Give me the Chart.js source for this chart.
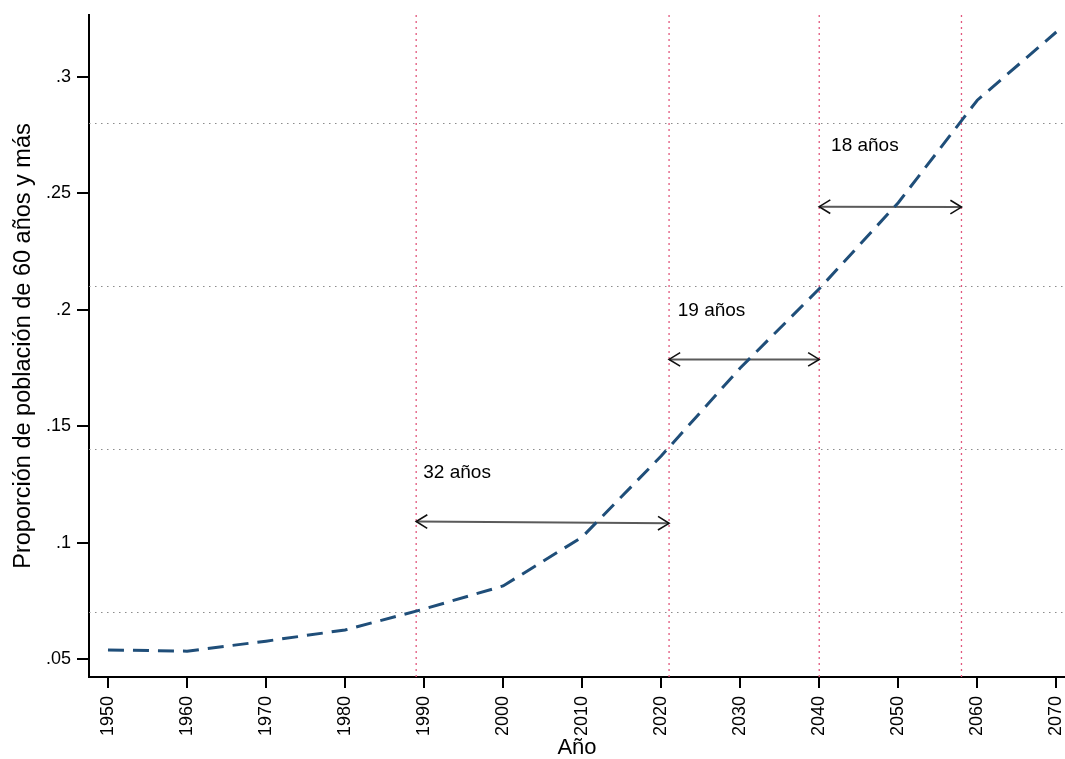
<!DOCTYPE html>
<html>
<head>
<meta charset="utf-8">
<script src="https://cdn.jsdelivr.net/npm/chart.js@4/dist/chart.umd.min.js"></script>
<style>
  html, body { margin:0; padding:0; background:#fff; }
  canvas { display:block; }
</style>
</head>
<body>
<canvas id="chart" width="1065" height="759"></canvas>
<script>
// data
const years  = [1950, 1960, 1970, 1980, 1990, 2000, 2010, 2020, 2030, 2040, 2050, 2060, 2070];
const shares = [0.0539, 0.0534, 0.0577, 0.0625, 0.0715, 0.0814, 0.1024, 0.1372, 0.175, 0.209, 0.246, 0.290, 0.3193];

const xTicks = [1950, 1960, 1970, 1980, 1990, 2000, 2010, 2020, 2030, 2040, 2050, 2060, 2070];
const yTicks = [0.05, 0.1, 0.15, 0.2, 0.25, 0.3];

const refYears  = [1989, 2021, 2040, 2058];
const refShares = [0.07, 0.14, 0.21, 0.28];

const arrowFrom  = [1989, 2021, 2040];
const arrowTo    = [2021, 2040, 2058];
const arrowYFrom = [0.1091, 0.1787, 0.2443];
const arrowYTo   = [0.1083, 0.1787, 0.2441];

const noteText = ["32 años", "19 años", "18 años"];
const noteX    = [1989.9, 2022.1, 2041.5];
const noteY    = [0.1299, 0.1995, 0.2704];

const xMin = 1947.6, xMax = 2071.1;
const yMin = 0.0423, yMax = 0.3266;

Chart.defaults.font.family = "'Liberation Sans', Arial, sans-serif";
Chart.defaults.color = "#000";

const datasets = [];
datasets.push({
  data: years.map((x, i) => ({ x, y: shares[i] })),
  borderColor: "#1f4e79", borderWidth: 3, borderDash: [16, 9],
  pointRadius: 0, tension: 0, order: 0
});
refShares.forEach(v => datasets.push({
  data: [{ x: xMin, y: v }, { x: xMax, y: v }],
  borderColor: "#8c8c8c", borderWidth: 1.2, borderDash: [1.5, 4.5],
  pointRadius: 0, order: 3
}));
refYears.forEach(v => datasets.push({
  data: [{ x: v, y: yMin }, { x: v, y: yMax }],
  borderColor: "#e2577d", borderWidth: 1.3, borderDash: [2, 4],
  pointRadius: 0, order: 2
}));
arrowFrom.forEach((v, i) => datasets.push({
  data: [{ x: v, y: arrowYFrom[i] }, { x: arrowTo[i], y: arrowYTo[i] }],
  borderColor: "#5a5a5a", borderWidth: 2,
  pointRadius: 0, order: 1
}));

const extras = {
  id: "extras",
  afterDatasetsDraw(chart) {
    const { ctx, scales: { x, y } } = chart;
    ctx.save();
    // arrow heads
    ctx.strokeStyle = "#111";
    ctx.lineWidth = 1.6;
    arrowFrom.forEach((v, i) => {
      const x0 = x.getPixelForValue(v), y0 = y.getPixelForValue(arrowYFrom[i]);
      const x1 = x.getPixelForValue(arrowTo[i]), y1 = y.getPixelForValue(arrowYTo[i]);
      const a = Math.atan2(y1 - y0, x1 - x0);
      const head = (px, py, ang) => {
        ctx.beginPath();
        ctx.moveTo(px + 13 * Math.cos(ang + 0.55), py + 13 * Math.sin(ang + 0.55));
        ctx.lineTo(px, py);
        ctx.lineTo(px + 13 * Math.cos(ang - 0.55), py + 13 * Math.sin(ang - 0.55));
        ctx.stroke();
      };
      head(x0, y0, a);
      head(x1, y1, a + Math.PI);
    });
    // notes
    ctx.fillStyle = "#000";
    ctx.font = "19px 'Liberation Sans', Arial, sans-serif";
    ctx.textAlign = "left";
    ctx.textBaseline = "middle";
    noteText.forEach((t, i) => {
      ctx.fillText(t, x.getPixelForValue(noteX[i]), y.getPixelForValue(noteY[i]));
    });
    ctx.restore();
  }
};

new Chart(document.getElementById("chart").getContext("2d"), {
  type: "line",
  data: { datasets },
  plugins: [extras],
  options: {
    responsive: false,
    animation: false,
    devicePixelRatio: 1,
    layout: { padding: { top: 15, right: 0, bottom: 0, left: 0 } },
    plugins: { legend: { display: false }, tooltip: { enabled: false } },
    scales: {
      x: {
        type: "linear", min: xMin, max: xMax,
        afterBuildTicks: s => { s.ticks = xTicks.map(value => ({ value })); },
        afterFit: s => { s.height = 82; s.paddingLeft = 0; s.paddingRight = 0; },
        ticks: { minRotation: 90, maxRotation: 90, autoSkip: false, padding: 8,
                 font: { size: 18 }, callback: v => String(v) },
        grid: { drawOnChartArea: false, drawTicks: true, tickLength: 11, color: "#000", lineWidth: 2 },
        border: { color: "#000", width: 2 },
        title: { display: true, text: "Año", font: { size: 22, lineHeight: 1 }, padding: 0 }
      },
      y: {
        type: "linear", min: yMin, max: yMax,
        afterBuildTicks: s => { s.ticks = yTicks.map(value => ({ value })); },
        afterFit: s => { s.width = 89; s.paddingTop = 0; s.paddingBottom = 0; },
        ticks: { padding: 6, font: { size: 18 },
                 callback: v => String(Number(v.toFixed(2))).replace(/^0/, "") },
        grid: { drawOnChartArea: false, drawTicks: true, tickLength: 12, color: "#000", lineWidth: 2 },
        border: { color: "#000", width: 2 },
        title: { display: true, text: "Proporción de población de 60 años y más",
                 font: { size: 23.5 }, padding: { top: 9, bottom: 0 } }
      }
    }
  }
});
</script>
</body>
</html>
